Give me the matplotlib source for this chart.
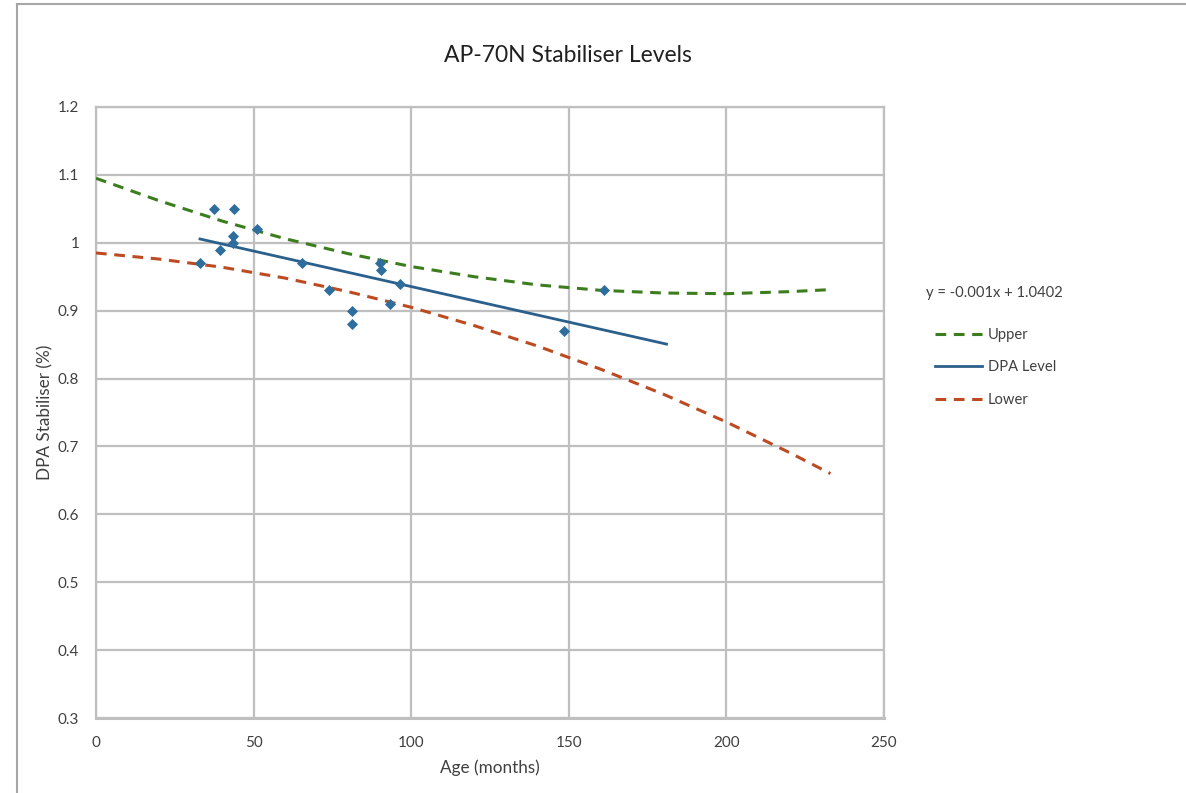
import numpy as np
import matplotlib
matplotlib.use("Agg")
import matplotlib.pyplot as plt
from matplotlib.lines import Line2D

# ---- data ----
age = [33.0, 37.4, 39.3, 43.8, 43.5, 43.5, 51.1, 65.4, 73.9, 81.2, 81.2,
       90.1, 90.4, 96.4, 93.3, 148.5, 161.2]
dpa = [0.97, 1.05, 0.99, 1.05, 1.01, 1.00, 1.02, 0.97, 0.93, 0.90, 0.88,
       0.97, 0.96, 0.94, 0.91, 0.87, 0.93]

band_x = [0, 20, 40, 60, 80, 100, 120, 140, 160, 180, 200, 220, 233]
upper = [1.095, 1.062, 1.032, 1.006, 0.984, 0.965, 0.950, 0.938, 0.930,
         0.926, 0.925, 0.928, 0.931]
lower = [0.985, 0.976, 0.964, 0.948, 0.928, 0.905, 0.878, 0.848, 0.814,
         0.777, 0.736, 0.691, 0.660]

trend_range = [33.0, 181.0]
equation = "y = -0.001x + 1.0402"

title = "AP-70N Stabiliser Levels"
xlabel = "Age (months)"
ylabel = "DPA Stabiliser (%)"
xticks = [0, 50, 100, 150, 200, 250]
yticks = [0.3, 0.4, 0.5, 0.6, 0.7, 0.8, 0.9, 1.0, 1.1, 1.2]
ytick_labels = ["0.3", "0.4", "0.5", "0.6", "0.7", "0.8", "0.9", "1", "1.1", "1.2"]

# ---- styling ----
plt.rcParams['font.family'] = ['Lato', 'DejaVu Sans']
grid_c = "#BFBFBF"
text_c = "#404040"
marker_c = "#2E6E9E"
trend_c = "#2B5F8C"
upper_c = "#3C7D1E"
lower_c = "#BD4B22"
dash = (0, (3.5, 2.5))

W, H = 1186, 793
fig = plt.figure(figsize=(W / 100, H / 100), dpi=100)
ax = fig.add_axes([96 / W, 1 - 718 / H, (884 - 96) / W, (718 - 107) / H])

# bands
ax.plot(band_x, upper, color=upper_c, lw=2.2, ls=dash, label="Upper", zorder=3)
# trendline
coef = np.polyfit(age, dpa, 1)
tx = np.array(trend_range)
ax.plot(tx, np.polyval(coef, tx), color=trend_c, lw=2.0, label="DPA Level", zorder=4)
ax.plot(band_x, lower, color=lower_c, lw=2.2, ls=dash, label="Lower", zorder=3)
# points
ax.scatter(age, dpa, marker="D", s=32, color=marker_c, zorder=5, linewidths=0)

ax.set_xlim(0, 250)
ax.set_ylim(0.3, 1.2)
ax.set_xticks(xticks)
ax.set_yticks(yticks)
ax.set_yticklabels(ytick_labels)
ax.grid(True, color=grid_c, lw=1.6)
ax.set_axisbelow(True)
for s in ax.spines.values():
    s.set_color(grid_c)
    s.set_linewidth(1.6)
ax.spines['bottom'].set_linewidth(2.2)
ax.tick_params(axis='y', length=0, labelsize=11, colors=text_c, pad=12)
ax.tick_params(axis='x', length=0, labelsize=11, colors=text_c, pad=13)

ax.set_xlabel(xlabel, fontsize=12.3, color=text_c, labelpad=7)
ax.set_ylabel(ylabel, fontsize=12.3, color=text_c, labelpad=3)
fig.text(568 / W, 1 - 55 / H, title, ha="center", va="center", fontsize=16.5, color="#202020")

fig.text(926 / W, 1 - 293 / H, equation, ha="left", va="center", fontsize=10.6, color=text_c)
handles = [Line2D([], [], color=upper_c, lw=2.2, ls=dash),
           Line2D([], [], color=trend_c, lw=2.0),
           Line2D([], [], color=lower_c, lw=2.2, ls=dash)]
leg = fig.legend(handles, ["Upper", "DPA Level", "Lower"], loc="upper left",
                 bbox_to_anchor=(935 / W, 1 - 328 / H), frameon=False,
                 fontsize=10.6, handlelength=3.2, labelspacing=1.25, handletextpad=0.4,
                 borderaxespad=0, borderpad=0)
for t in leg.get_texts():
    t.set_color(text_c)

# outer chart frame (top and left edges)
fig.add_artist(Line2D([17 / W, 1], [1 - 4 / H, 1 - 4 / H], color="#A6A6A6", lw=1.5,
                      transform=fig.transFigure))
fig.add_artist(Line2D([17 / W, 17 / W], [0, 1 - 4 / H], color="#A6A6A6", lw=1.5,
                      transform=fig.transFigure))

fig.savefig("out.png", dpi=100, facecolor="white")
